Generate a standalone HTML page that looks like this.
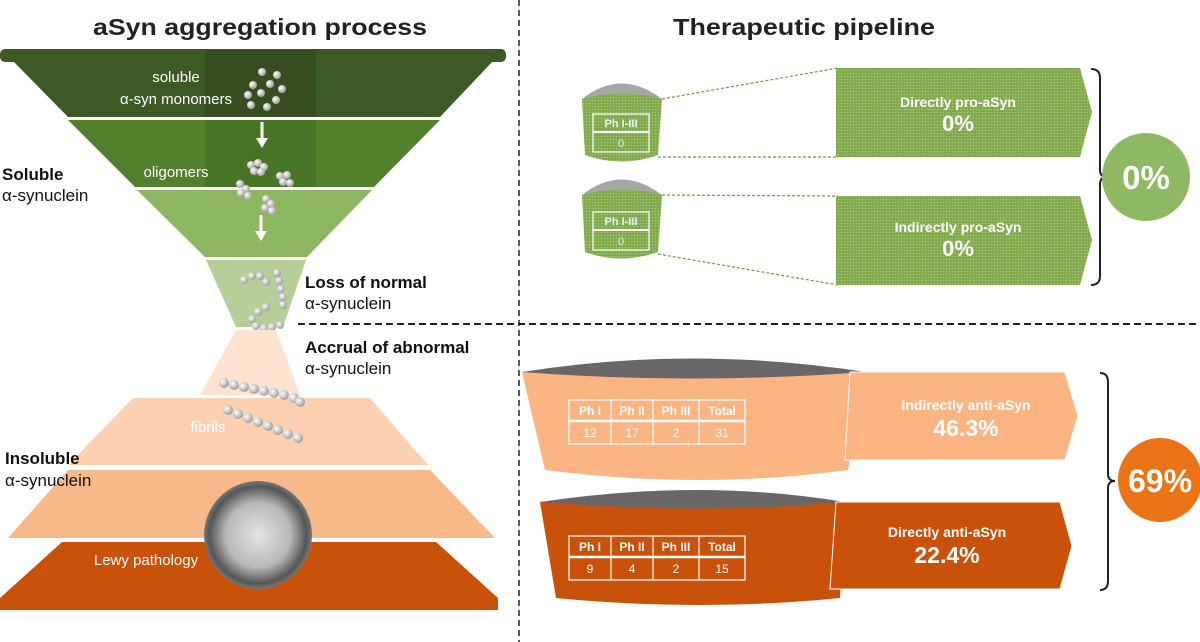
<!DOCTYPE html>
<html><head><meta charset="utf-8"><style>
html,body{margin:0;padding:0;background:#fff;}
svg{display:block;font-family:"Liberation Sans",sans-serif;}
</style></head><body>
<svg width="1200" height="642" viewBox="0 0 1200 642" xmlns="http://www.w3.org/2000/svg">
<defs>
<pattern id="dots" width="3" height="3" patternUnits="userSpaceOnUse">
<rect width="3" height="3" fill="#7faa4a"/><circle cx="1.5" cy="1.5" r="0.8" fill="#a6c680"/>
</pattern>
<radialGradient id="ball" cx="0.35" cy="0.35" r="0.7"><stop offset="0" stop-color="#fff"/><stop offset="1" stop-color="#999"/></radialGradient>
<radialGradient id="lewy" cx="0.5" cy="0.5" r="0.5"><stop offset="0" stop-color="#e4e4e4"/><stop offset="0.6" stop-color="#b8b8b8"/><stop offset="0.9" stop-color="#555"/><stop offset="1" stop-color="#777"/></radialGradient>
</defs>

<text x="260" y="35" font-size="23" font-weight="bold" text-anchor="middle" fill="#222" textLength="334" lengthAdjust="spacingAndGlyphs">aSyn aggregation process</text>
<text x="804" y="35" font-size="23" font-weight="bold" text-anchor="middle" fill="#222" textLength="262" lengthAdjust="spacingAndGlyphs">Therapeutic pipeline</text>

<line x1="519" y1="0" x2="519" y2="642" stroke="#222" stroke-width="1.5" stroke-dasharray="6,4"/>
<line x1="298" y1="324" x2="1200" y2="324" stroke="#222" stroke-width="2" stroke-dasharray="7,4"/>

<rect x="0" y="49" width="506" height="13" rx="5" fill="#3d5a26"/>
<polygon points="12,60 494,60 440,117 68,117" fill="#3d5a26"/>
<polygon points="205,50 316,50 316,117 205,117" fill="#34491f" opacity="0.7"/>
<polygon points="68,120 440,120 374,187 135,187" fill="#52802c"/>
<rect x="205" y="120" width="111" height="67" fill="#487426"/>
<polygon points="137,190 372,190 307,257 205,257" fill="#8db660"/>
<polygon points="206,260 306,260 283,327 236,327" fill="#b6cf98"/>
<text x="176" y="82" font-size="15" fill="#fff" text-anchor="middle">soluble</text>
<text x="176" y="104" font-size="15" fill="#fff" text-anchor="middle">α-syn monomers</text>
<text x="176" y="177" font-size="15" fill="#fff" text-anchor="middle">oligomers</text>
<g fill="url(#ball)">
<circle cx="262" cy="72" r="4"/><circle cx="277" cy="75" r="4"/><circle cx="253" cy="85" r="4"/><circle cx="270" cy="84" r="4"/><circle cx="282" cy="89" r="4"/>
<circle cx="248" cy="95" r="4"/><circle cx="261" cy="93" r="4"/><circle cx="276" cy="100" r="4"/><circle cx="251" cy="105" r="4"/><circle cx="267" cy="107" r="4"/>
<circle cx="251" cy="165" r="4"/><circle cx="258" cy="163" r="4"/><circle cx="264" cy="167" r="4"/><circle cx="254" cy="171" r="4"/><circle cx="261" cy="172" r="4"/>
<circle cx="280" cy="176" r="4"/><circle cx="287" cy="175" r="4"/><circle cx="283" cy="182" r="4"/><circle cx="290" cy="183" r="4"/>
<circle cx="240" cy="184" r="4"/><circle cx="246" cy="189" r="4"/><circle cx="241" cy="193" r="4"/><circle cx="248" cy="196" r="4"/>
<circle cx="266" cy="199" r="4"/><circle cx="271" cy="204" r="4"/><circle cx="265" cy="208" r="4"/><circle cx="272" cy="211" r="4"/>
<circle cx="244" cy="280" r="4"/><circle cx="252" cy="276" r="4"/><circle cx="260" cy="276" r="4"/><circle cx="266" cy="282" r="4"/>
<circle cx="277" cy="273" r="4"/><circle cx="279" cy="281" r="4"/><circle cx="281" cy="289" r="4"/><circle cx="283" cy="297" r="4"/><circle cx="283" cy="305" r="4"/>
<circle cx="266" cy="307" r="4"/><circle cx="258" cy="312" r="4"/><circle cx="252" cy="319" r="4"/><circle cx="256" cy="326" r="4"/><circle cx="264" cy="328" r="4"/><circle cx="272" cy="327" r="4"/><circle cx="280" cy="325" r="4"/>
</g>
<g fill="#fff" stroke="#fff">
<line x1="262" y1="122" x2="262" y2="140" stroke-width="3"/><polygon points="256,138 268,138 262,148" stroke="none"/>
<line x1="261" y1="215" x2="261" y2="233" stroke-width="3"/><polygon points="255,231 267,231 261,241" stroke="none"/>
<line x1="254" y1="344" x2="254" y2="360" stroke-width="3"/><polygon points="248,358 260,358 254,368" stroke="none"/>
<line x1="255" y1="440" x2="255" y2="458" stroke-width="3"/><polygon points="249,456 261,456 255,466" stroke="none"/>
</g>

<polygon points="236,330 276,330 300,395 200,395" fill="#fde3d0"/>
<polygon points="133,398 370,398 428,465 68,465" fill="#fbd1b2"/>
<polygon points="68,470 430,470 495,538 8,538" fill="#f8b98a"/>
<polygon points="62,542 436,542 498,598 498,610 0,610 0,598" fill="#c9520a"/>
<text x="208" y="432" font-size="15" fill="#fff" text-anchor="middle">fibrils</text>
<text x="146" y="565" font-size="15" fill="#fff" text-anchor="middle">Lewy pathology</text>
<g fill="url(#ball)">
<circle cx="224" cy="383" r="5"/><circle cx="234" cy="385" r="5"/><circle cx="244" cy="387" r="5"/><circle cx="254" cy="389" r="5"/><circle cx="264" cy="391" r="5"/><circle cx="274" cy="393" r="5"/><circle cx="284" cy="395" r="5"/><circle cx="294" cy="398" r="5"/><circle cx="300" cy="402" r="5"/>
<circle cx="228" cy="410" r="5"/><circle cx="238" cy="414" r="5"/><circle cx="248" cy="418" r="5"/><circle cx="258" cy="422" r="5"/><circle cx="268" cy="426" r="5"/><circle cx="278" cy="430" r="5"/><circle cx="288" cy="434" r="5"/><circle cx="298" cy="438" r="5"/>
</g>
<circle cx="258" cy="535" r="54" fill="url(#lewy)"/>

<text x="2" y="180" font-size="17" font-weight="bold" fill="#111">Soluble</text>
<text x="2" y="201" font-size="17" fill="#111">α-synuclein</text>
<text x="305" y="288" font-size="17" font-weight="bold" fill="#111">Loss of normal</text>
<text x="305" y="309" font-size="17" fill="#111">α-synuclein</text>
<text x="305" y="353" font-size="17" font-weight="bold" fill="#111">Accrual of abnormal</text>
<text x="305" y="374" font-size="17" fill="#111">α-synuclein</text>
<text x="5" y="464" font-size="17" font-weight="bold" fill="#111">Insoluble</text>
<text x="5" y="486" font-size="17" fill="#111">α-synuclein</text>

<g stroke="#6e9a3a" stroke-dasharray="3,2" stroke-width="1.2">
<line x1="662" y1="99" x2="838" y2="68"/><line x1="658" y1="157" x2="838" y2="157"/>
<line x1="662" y1="195" x2="838" y2="196"/><line x1="658" y1="254" x2="838" y2="285"/>
</g>
<path d="M582,99 Q621,86 662,99 L658,155 Q621,168 585,155 Z" fill="url(#dots)"/>
<path d="M582,99 Q621,68 662,99 Q621,88 582,99 Z" fill="#a6a6a6"/>
<rect x="593" y="114" width="56" height="38" fill="none" stroke="#fff" stroke-width="1.2"/><line x1="593" y1="132" x2="649" y2="132" stroke="#fff" stroke-width="2"/>
<text x="621" y="127" font-size="11" font-weight="bold" fill="#eee" text-anchor="middle">Ph I-III</text><text x="621" y="147" font-size="11" fill="#eee" text-anchor="middle">0</text>
<path d="M582,195 Q621,182 662,195 L658,252 Q621,265 585,252 Z" fill="url(#dots)"/>
<path d="M582,195 Q621,164 662,195 Q621,184 582,195 Z" fill="#a6a6a6"/>
<rect x="593" y="212" width="56" height="38" fill="none" stroke="#fff" stroke-width="1.2"/><line x1="593" y1="230" x2="649" y2="230" stroke="#fff" stroke-width="2"/>
<text x="621" y="225" font-size="11" font-weight="bold" fill="#eee" text-anchor="middle">Ph I-III</text><text x="621" y="245" font-size="11" fill="#eee" text-anchor="middle">0</text>
<polygon points="836,68 1080,68 1092,112 1080,157 836,157" fill="url(#dots)"/>
<polygon points="836,196 1080,196 1092,240 1080,285 836,285" fill="url(#dots)"/>
<text x="958" y="107" font-size="14" font-weight="bold" fill="#fff" text-anchor="middle">Directly pro-aSyn</text>
<text x="958" y="131" font-size="22" font-weight="bold" fill="#fff" text-anchor="middle">0%</text>
<text x="958" y="232" font-size="14" font-weight="bold" fill="#fff" text-anchor="middle">Indirectly pro-aSyn</text>
<text x="958" y="256" font-size="22" font-weight="bold" fill="#fff" text-anchor="middle">0%</text>
<path d="M1091,69 Q1100,69 1100,78 L1100,170 Q1100,177 1107,177 Q1100,177 1100,184 L1100,276 Q1100,285 1091,285" fill="none" stroke="#222" stroke-width="2"/>
<circle cx="1146" cy="177" r="44" fill="#8fb863"/>
<text x="1146" y="189" font-size="33" font-weight="bold" fill="#fff" text-anchor="middle">0%</text>

<path d="M522,372 L866,372 L848,470 Q700,490 545,470 Z" fill="#fbb583"/>
<path d="M522,372 Q690,345 866,372 Q690,385 522,372 Z" fill="#6a6566"/>
<polygon points="850,372 1065,372 1078,416 1065,460 845,460" fill="#fbb583" stroke="#fff" stroke-width="1"/>
<path d="M540,502 L845,502 L840,598 Q700,612 556,598 Z" fill="#c9520a"/>
<path d="M540,502 Q700,478 845,502 Q700,515 540,502 Z" fill="#6a6566"/>
<polygon points="836,502 1060,502 1072,546 1060,589 830,589" fill="#c9520a" stroke="#fff" stroke-width="1"/>
<text x="966" y="410" font-size="14" font-weight="bold" fill="#fff" text-anchor="middle">Indirectly anti-aSyn</text>
<text x="966" y="436" font-size="23" font-weight="bold" fill="#fff" text-anchor="middle">46.3%</text>
<text x="947" y="537" font-size="14" font-weight="bold" fill="#fff" text-anchor="middle">Directly anti-aSyn</text>
<text x="947" y="563" font-size="23" font-weight="bold" fill="#fff" text-anchor="middle">22.4%</text>
<g stroke="#fff" stroke-width="1.2" fill="none">
<rect x="569" y="400" width="176" height="44"/><line x1="569" y1="421" x2="745" y2="421" stroke-width="2.5"/>
<line x1="611" y1="400" x2="611" y2="444"/><line x1="653" y1="400" x2="653" y2="444"/><line x1="699" y1="400" x2="699" y2="444"/>
<rect x="569" y="536" width="176" height="44"/><line x1="569" y1="557" x2="745" y2="557" stroke-width="2.5"/>
<line x1="611" y1="536" x2="611" y2="580"/><line x1="653" y1="536" x2="653" y2="580"/><line x1="699" y1="536" x2="699" y2="580"/>
</g>
<g font-size="12" fill="#fff" text-anchor="middle">
<text x="590" y="415" font-weight="bold">Ph I</text><text x="632" y="415" font-weight="bold">Ph II</text><text x="676" y="415" font-weight="bold">Ph III</text><text x="722" y="415" font-weight="bold">Total</text>
<text x="590" y="437">12</text><text x="632" y="437">17</text><text x="676" y="437">2</text><text x="722" y="437">31</text>
<text x="590" y="551" font-weight="bold">Ph I</text><text x="632" y="551" font-weight="bold">Ph II</text><text x="676" y="551" font-weight="bold">Ph III</text><text x="722" y="551" font-weight="bold">Total</text>
<text x="590" y="573">9</text><text x="632" y="573">4</text><text x="676" y="573">2</text><text x="722" y="573">15</text>
</g>
<path d="M1100,373 Q1108,373 1108,382 L1108,474 Q1108,481 1115,481 Q1108,481 1108,488 L1108,581 Q1108,590 1100,590" fill="none" stroke="#222" stroke-width="2"/>
<circle cx="1160" cy="480" r="42" fill="#ea7316"/>
<text x="1160" y="492" font-size="32" font-weight="bold" fill="#fff" text-anchor="middle">69%</text>
</svg>
</body></html>
